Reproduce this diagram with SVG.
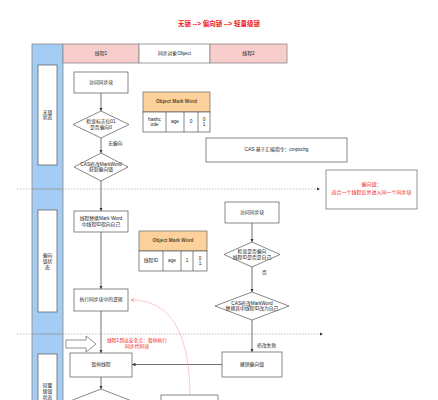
<svg xmlns="http://www.w3.org/2000/svg" width="438" height="400" viewBox="0 0 438 400">
<defs>
<style>
text{font-family:"Liberation Sans","Noto Sans CJK SC",sans-serif;font-size:4.8px;fill:#222;text-anchor:middle;dominant-baseline:middle}
.box{fill:#fff;stroke:#555;stroke-width:0.7}
.hdr{stroke:#888;stroke-width:0.8}
.ln{fill:none;stroke:#333;stroke-width:0.7}
.dash{fill:none;stroke:#aaa;stroke-width:0.7;stroke-dasharray:1.5,1.5}
.red{fill:#f01818}
.bold{font-weight:bold}
.lbl{text-anchor:start}
</style>
<marker id="ah" viewBox="0 0 10 10" refX="10" refY="5" markerWidth="3.5" markerHeight="3.5" markerUnits="userSpaceOnUse" orient="auto"><path d="M0,0 L10,5 L0,10 z" fill="#333"/></marker>
<marker id="ahr" viewBox="0 0 10 10" refX="10" refY="5" markerWidth="3.5" markerHeight="3.5" markerUnits="userSpaceOnUse" orient="auto"><path d="M0,0 L10,5 L0,10" fill="none" stroke="#f06060" stroke-width="1.5"/></marker>
</defs>
<rect width="438" height="400" fill="#fff"/>

<text id="title" x="219" y="24" class="red bold" style="font-size:6.5px">无锁 --&gt; 偏向锁 --&gt; 轻量级锁</text>

<g id="pool">
<rect x="32" y="44" width="31" height="370" fill="#a3cdf5" stroke="#888" stroke-width="0.8"/>
<line x1="32" y1="189" x2="63" y2="189" stroke="#888" stroke-width="0.6"/>
<line x1="32" y1="334" x2="63" y2="334" stroke="#888" stroke-width="0.6"/>
</g>
<g id="lane1"><rect x="38" y="65" width="19" height="100" class="box"/><text x="47.5" y="112.5">无锁</text><text x="47.5" y="118">状态</text></g>
<g id="lane2"><rect x="38" y="210" width="19" height="102" class="box"/><text x="47.5" y="256">偏向</text><text x="47.5" y="262">锁状</text><text x="47.5" y="268">态</text></g>
<g id="lane3"><rect x="38" y="354" width="19" height="70" class="box"/><text x="47.5" y="386">轻量</text><text x="47.5" y="392">级锁</text><text x="47.5" y="398">状态</text></g>

<g id="header">
<rect x="63" y="44" width="76" height="19" fill="#f8cecc" class="hdr"/><text x="101" y="53.5">线程1</text>
<rect x="139" y="44" width="71" height="19" fill="#fff" class="hdr"/><text x="174.5" y="53.5">同步对象Object</text>
<rect x="210" y="44" width="77" height="19" fill="#f8cecc" class="hdr"/><text x="248.5" y="53.5">线程2</text>
</g>

<g id="connectors">
<line x1="17" y1="189" x2="320" y2="189" class="dash" marker-end="url(#ah)"/>
<line x1="17" y1="334" x2="323" y2="334" class="dash" marker-end="url(#ah)"/>
<line x1="101" y1="93" x2="101" y2="111" class="ln" marker-end="url(#ah)"/>
<line x1="101" y1="138" x2="101" y2="153" class="ln" marker-end="url(#ah)"/>
<line x1="101" y1="181" x2="101" y2="211" class="ln" marker-end="url(#ah)"/>
<line x1="101" y1="232" x2="101" y2="289" class="ln" marker-end="url(#ah)"/>
<line x1="101" y1="311" x2="101" y2="353" class="ln" marker-end="url(#ah)"/>
<line x1="101" y1="377" x2="101" y2="389" class="ln" marker-end="url(#ah)"/>
<line x1="252" y1="223" x2="252" y2="242" class="ln" marker-end="url(#ah)"/>
<line x1="252" y1="267" x2="252" y2="292" class="ln" marker-end="url(#ah)"/>
<line x1="252" y1="320" x2="252" y2="352" class="ln" marker-end="url(#ah)"/>
<line x1="222" y1="364.5" x2="132" y2="364.5" class="ln" marker-end="url(#ah)"/>
<path d="M190,398 C190,335 172,300 131,300" fill="none" stroke="#f4a8a8" stroke-width="0.6" marker-end="url(#ahr)"/>
<text x="108" y="144" class="lbl">无偏向</text>
<text x="262" y="273" class="lbl">否</text>
<text x="257" y="346" class="lbl">修改失败</text>
</g>

<g id="t1_access"><rect x="74" y="72" width="54" height="21" class="box"/><text x="101" y="82.5">访问同步块</text></g>
<g id="t1_check"><polygon points="101,111 129,124.5 101,138 73,124.5" class="box"/><text x="101" y="122">检查标志位01</text><text x="101" y="127.5">是否偏向0</text></g>
<g id="t1_cas"><polygon points="101,153 128,167 101,181 74,167" class="box"/><text x="101" y="164.5">CAS修改MarkWord</text><text x="101" y="170">获取偏向锁</text></g>
<g id="t1_replace"><rect x="74" y="211" width="54" height="21" class="box"/><text x="101" y="219">线程替换Mark Word</text><text x="101" y="224.5">中线程ID指向自己</text></g>
<g id="t1_exec"><rect x="74" y="289" width="54" height="22" class="box"/><text x="101" y="300">执行同步块中的逻辑</text></g>
<g id="t1_pause"><rect x="70" y="353" width="62" height="24" class="box"/><text x="101" y="365">暂停线程</text></g>
<g id="t1_diamond2"><polygon points="101,389 137,403 101,417 65,403" class="box"/></g>
<g id="bottom_box"><rect x="161" y="395" width="57" height="25" class="box"/></g>
<g id="safepoint_arrow"><path d="M66,340 L86,340 L86,336 L96,344 L86,352 L86,348 L66,348 z" fill="#fff" stroke="#666" stroke-width="0.7"/></g>
<g id="safepoint_note"><text x="137" y="340.5" class="red">线程1到达安全点：暂停执行</text><text x="137" y="347" class="red">同步代码块</text></g>

<g id="table1">
<rect x="143" y="92" width="67" height="20" fill="#fdd19c" stroke="#666" stroke-width="0.7"/>
<text x="176.5" y="102" class="bold" fill="#553" style="fill:#5a4a2a">Object Mark Word</text>
<rect x="143" y="112" width="67" height="20" class="box"/>
<line x1="166" y1="112" x2="166" y2="132" stroke="#555" stroke-width="0.7"/>
<line x1="184" y1="112" x2="184" y2="132" stroke="#555" stroke-width="0.7"/>
<line x1="198" y1="112" x2="198" y2="132" stroke="#555" stroke-width="0.7"/>
<text x="154.5" y="119.5">hashc</text><text x="154.5" y="125">ode</text>
<text x="175" y="122">age</text><text x="191" y="122">0</text>
<text x="204" y="119.5">0</text><text x="204" y="125">1</text>
</g>
<g id="table2">
<rect x="139" y="231" width="68" height="20" fill="#fdd19c" stroke="#666" stroke-width="0.7"/>
<text x="173" y="241" class="bold" style="fill:#5a4a2a">Object Mark Word</text>
<rect x="139" y="251" width="68" height="20" class="box"/>
<line x1="163" y1="251" x2="163" y2="271" stroke="#555" stroke-width="0.7"/>
<line x1="181" y1="251" x2="181" y2="271" stroke="#555" stroke-width="0.7"/>
<line x1="193" y1="251" x2="193" y2="271" stroke="#555" stroke-width="0.7"/>
<text x="151" y="261">线程ID</text><text x="172" y="261">age</text><text x="187" y="261">1</text>
<text x="200" y="258.5">0</text><text x="200" y="264">1</text>
</g>
<g id="cas_note"><rect x="206" y="138" width="141" height="24" class="box"/><text x="276.5" y="150">CAS 基于汇编指令：cmpxchg</text></g>
<g id="bias_note"><rect x="326" y="170" width="91" height="39" fill="#fff" stroke="#666" stroke-width="0.7"/><text x="371.5" y="185" class="red" style="font-size:5px">偏向锁：</text><text x="371.5" y="193" class="red" style="font-size:5px">适合一个线程反复进入同一个同步块</text></g>

<g id="t2_access"><rect x="225" y="202" width="54" height="21" class="box"/><text x="252" y="212.5">访问同步块</text></g>
<g id="t2_check"><polygon points="252,242 280,254.5 252,267 224,254.5" class="box"/><text x="252" y="252">检查是否偏向</text><text x="252" y="257.5">线程ID是否是自己</text></g>
<g id="t2_cas"><polygon points="252,292 289,306 252,320 215,306" class="box"/><text x="252" y="303.5">CAS修改MarkWord</text><text x="252" y="309">替换其中线程ID改为自己</text></g>
<g id="t2_revoke"><rect x="222" y="352" width="60" height="25" class="box"/><text x="252" y="364.5">撤销偏向锁</text></g>
</svg>
